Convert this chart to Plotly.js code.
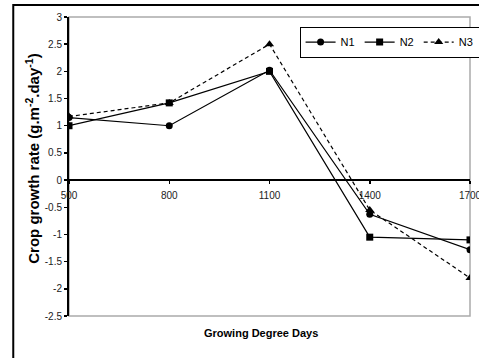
<!DOCTYPE html>
<html><head><meta charset="utf-8">
<script src="https://cdn.plot.ly/plotly-3.0.1.min.js"></script>
<style>html,body{margin:0;padding:0;background:#fff;}#chart{width:479px;height:358px;}</style>
</head><body><div id="chart"></div>
<script>
const gdd = [500, 800, 1100, 1400, 1700];
const n1 = [1.15, 1.0, 2.02, -0.63, -1.28];
const n2 = [1.0, 1.42, 2.0, -1.05, -1.1];
const n3 = [1.17, 1.42, 2.5, -0.55, -1.8];
const seriesNames = ['N1', 'N2', 'N3'];
const yTickVals = [-2.5, -2, -1.5, -1, -0.5, 0, 0.5, 1, 1.5, 2, 2.5, 3];
const yTickText = ['-2.5', '-2', '-1.5', '-1', '-0.5', '0', '0.5', '1', '1.5', '2', '2.5', '3'];
const xTickVals = [500, 800, 1100, 1400, 1700];
const xTickText = ['500', '800', '1100', '1400', '1700'];

const yMin = -2.5, yMax = 3;
const traces = [
  {x: gdd, y: n1, name: seriesNames[0], mode: 'lines+markers', line: {color: '#000', width: 1.2}, marker: {symbol: 'circle', size: 7, color: '#000'}},
  {x: gdd, y: n2, name: seriesNames[1], mode: 'lines+markers', line: {color: '#000', width: 1.2}, marker: {symbol: 'square', size: 7, color: '#000'}},
  {x: gdd, y: n3, name: seriesNames[2], mode: 'lines+markers', line: {color: '#000', width: 1.2, dash: '4px,3px'}, marker: {symbol: 'triangle-up', size: 8, color: '#000'}}
];
const tickFont = {family: 'Liberation Sans, Arial, sans-serif', size: 10, color: '#222'};
const layout = {
  width: 479, height: 358,
  margin: {l: 69, r: 9, t: 17, b: 42, autoexpand: false},
  paper_bgcolor: '#fff', plot_bgcolor: '#fff',
  showlegend: true,
  legend: {orientation: 'h', x: 0.575, y: 0.968, xanchor: 'left', yanchor: 'top',
    bordercolor: '#000', borderwidth: 1, bgcolor: '#fff',
    font: {family: 'Liberation Sans, Arial, sans-serif', size: 11, color: '#000'},
    itemwidth: 30, tracegroupgap: 0},
  xaxis: {range: [500, 1700], tickvals: xTickVals, ticktext: xTickText, automargin: false,
    ticklabeloverflow: 'allow', ticklabelstandoff: 3,
    anchor: 'free', position: (0 - yMin) / (yMax - yMin),
    showline: true, linecolor: '#000', linewidth: 2,
    ticks: 'outside', ticklen: 3, tickcolor: '#000', tickwidth: 1.5,
    showgrid: false, zeroline: false, tickfont: tickFont},
  yaxis: {range: [yMin, yMax], tickvals: yTickVals, ticktext: yTickText, automargin: false,
    showline: true, linecolor: '#000', linewidth: 2,
    ticks: 'outside', ticklen: 3, tickcolor: '#000', tickwidth: 1.5,
    showgrid: false, zeroline: false, tickfont: tickFont},
  shapes: [
    {type: 'rect', xref: 'paper', yref: 'paper', x0: 0, x1: 1, y0: 0, y1: 1, line: {color: '#aaa', width: 1.5}, layer: 'below'},
    {type: 'rect', xref: 'paper', yref: 'paper', x0: -0.139, x1: 1.2, y0: -0.4, y1: 1.04, line: {color: '#000', width: 2}, layer: 'below'}
  ],
  annotations: [
    {text: 'Crop growth rate (g.m<sup>-2</sup>.day<sup>-1</sup>)', xref: 'paper', yref: 'paper',
      x: -0.093, y: 0.525, textangle: -90, showarrow: false, xanchor: 'center', yanchor: 'middle',
      font: {family: 'Liberation Sans, Arial, sans-serif', size: 15, color: '#000', weight: 'bold'}},
    {text: 'Growing Degree Days', xref: 'paper', yref: 'paper', x: 0.479, y: -0.057,
      showarrow: false, xanchor: 'center', yanchor: 'middle',
      font: {family: 'Liberation Sans, Arial, sans-serif', size: 11, color: '#000', weight: 'bold'}}
  ]
};
Plotly.newPlot('chart', traces, layout, {displayModeBar: false, staticPlot: true});
</script></body></html>
